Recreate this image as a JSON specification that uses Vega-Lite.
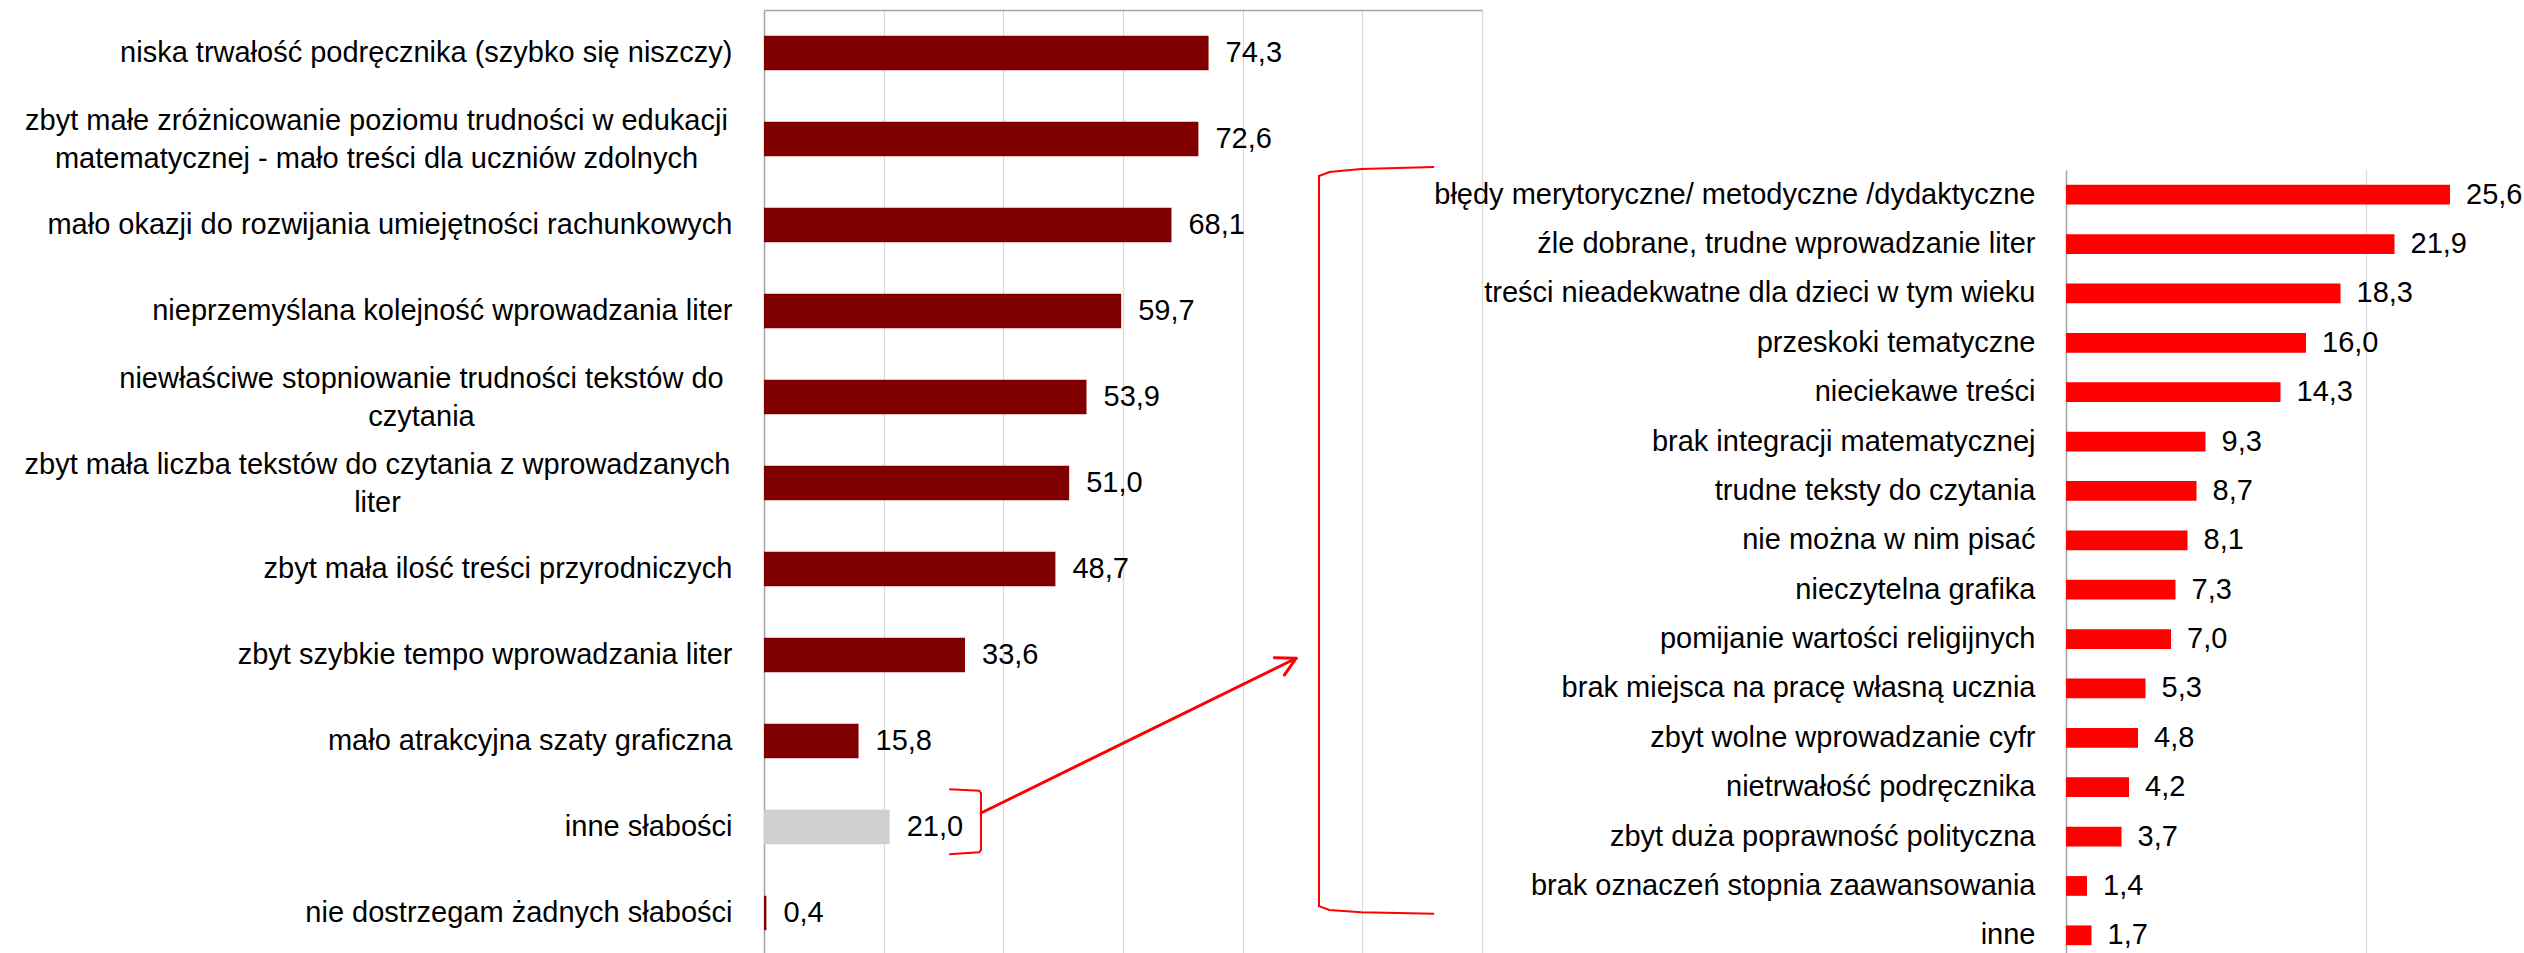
{
  "$schema": "https://vega.github.io/schema/vega-lite/v6.json",
  "padding": {"left": 24, "top": 10, "right": 0, "bottom": 0},
  "background": "#ffffff",
  "config": {
    "locale": {"number": {"decimal": ",", "thousands": " ", "grouping": [3], "currency": ["", " zł"]}},
    "view": {"stroke": null},
    "axis": {
      "labelFont": "Liberation Sans",
      "labelFontSize": 29,
      "labelColor": "#000000",
      "labelLimit": 900,
      "labelLineHeight": 38,
      "domainColor": "#A6A6A6",
      "domainWidth": 1.5,
      "gridColor": "#D9D9D9",
      "gridWidth": 1.2,
      "ticks": false,
      "tickSize": 0
    },
    "text": {"font": "Liberation Sans", "fontSize": 29, "color": "#000000"}
  },
  "bounds": "flush",
  "spacing": 584,
  "hconcat": [
    {
      "width": 718,
      "height": 946,
      "layer": [
        {
          "data": {"values": [
            {"cat": "niska trwałość podręcznika (szybko się niszczy)", "v": 74.3},
            {"cat": "zbyt małe zróżnicowanie poziomu trudności w edukacji|matematycznej - mało treści dla uczniów zdolnych", "v": 72.6},
            {"cat": "mało okazji do rozwijania umiejętności rachunkowych", "v": 68.1},
            {"cat": "nieprzemyślana kolejność wprowadzania liter", "v": 59.7},
            {"cat": "niewłaściwe stopniowanie trudności tekstów do|czytania", "v": 53.9},
            {"cat": "zbyt mała liczba tekstów do czytania z wprowadzanych|liter", "v": 51.0},
            {"cat": "zbyt mała ilość treści przyrodniczych", "v": 48.7},
            {"cat": "zbyt szybkie tempo wprowadzania liter", "v": 33.6},
            {"cat": "mało atrakcyjna szaty graficzna", "v": 15.8},
            {"cat": "inne słabości", "v": 21.0},
            {"cat": "nie dostrzegam żadnych słabości", "v": 0.4}
          ]},
          "encoding": {
            "y": {
              "field": "cat", "type": "nominal", "sort": null,
              "scale": {"paddingInner": 0.6, "paddingOuter": 0.3},
              "axis": {
                "title": null,
                "domain": true,
                "grid": false,
                "labelExpr": "split(datum.label, '|')",
                "labelAlign": {"condition": {"test": "indexof(datum.value, '|') >= 0", "value": "center"}, "value": "right"},
                "labelOffset": {"condition": {"test": "indexof(datum.value, '|') >= 0", "value": -18}, "value": 0},
                "labelPadding": {"condition": [
                  {"test": "indexof(datum.value, 'zbyt małe') == 0", "value": 388},
                  {"test": "indexof(datum.value, 'niewłaściwe') == 0", "value": 343},
                  {"test": "indexof(datum.value, 'zbyt mała liczba') == 0", "value": 387}
                ], "value": 32}
              }
            },
            "x": {
              "field": "v", "type": "quantitative",
              "scale": {"domain": [0, 120]},
              "axis": {"orient": "top", "title": null, "labels": false, "domain": true, "grid": true, "values": [0, 20, 40, 60, 80, 100, 120]}
            }
          },
          "layer": [
            {
              "mark": {"type": "bar"},
              "encoding": {
                "color": {"condition": {"test": "datum.cat === 'inne słabości'", "value": "#D0CECE"}, "value": "#800000"}
              }
            },
            {
              "mark": {"type": "text", "align": "left", "baseline": "middle", "dx": 17},
              "encoding": {"text": {"field": "v", "type": "quantitative", "format": ".1f"}}
            }
          ]
        },
        {
          "data": {"values": [
            {"path": "b1", "i": 0, "v": 30.95, "u": 9.062},
            {"path": "b1", "i": 1, "v": 35.97, "u": 9.078},
            {"path": "b1", "i": 2, "v": 36.27, "u": 9.108},
            {"path": "b1", "i": 3, "v": 36.27, "u": 9.767},
            {"path": "b1", "i": 4, "v": 35.97, "u": 9.795},
            {"path": "b1", "i": 5, "v": 30.95, "u": 9.818},
            {"path": "b2", "i": 0, "v": 112.0, "u": 1.826},
            {"path": "b2", "i": 1, "v": 99.8, "u": 1.849},
            {"path": "b2", "i": 2, "v": 94.5, "u": 1.884},
            {"path": "b2", "i": 3, "v": 92.76, "u": 1.93},
            {"path": "b2", "i": 4, "v": 92.76, "u": 10.42},
            {"path": "b2", "i": 5, "v": 94.5, "u": 10.465},
            {"path": "b2", "i": 6, "v": 99.8, "u": 10.49},
            {"path": "b2", "i": 7, "v": 112.0, "u": 10.51}
          ]},
          "mark": {"type": "line", "color": "#FF0000", "strokeWidth": 2},
          "encoding": {
            "x": {"field": "v", "type": "quantitative", "scale": {"domain": [0, 120]}},
            "y": {"field": "u", "type": "quantitative", "scale": {"domain": [0, 11], "reverse": true, "nice": false, "zero": false}, "axis": null},
            "detail": {"field": "path"},
            "order": {"field": "i"}
          }
        },
        {
          "data": {"values": [
            {"path": "a0", "i": 0, "v": 36.27, "u": 9.337},
            {"path": "a0", "i": 1, "v": 88.92, "u": 7.538},
            {"path": "a1", "i": 0, "v": 85.29, "u": 7.531},
            {"path": "a1", "i": 1, "v": 88.92, "u": 7.538},
            {"path": "a2", "i": 0, "v": 86.96, "u": 7.733},
            {"path": "a2", "i": 1, "v": 88.92, "u": 7.538}
          ]},
          "mark": {"type": "line", "color": "#FF0000", "strokeWidth": 3, "strokeCap": "round"},
          "encoding": {
            "x": {"field": "v", "type": "quantitative", "scale": {"domain": [0, 120]}},
            "y": {"field": "u", "type": "quantitative", "scale": {"domain": [0, 11], "reverse": true, "nice": false, "zero": false}, "axis": null},
            "detail": {"field": "path"},
            "order": {"field": "i"}
          }
        }
      ],
      "resolve": {"scale": {"y": "independent"}}
    },
    {
      "width": 600,
      "height": 950,
      "data": {"values": [
        {"cat": "błędy merytoryczne/ metodyczne /dydaktyczne", "v": 25.6},
        {"cat": "źle dobrane, trudne wprowadzanie liter", "v": 21.9},
        {"cat": "treści nieadekwatne dla dzieci w tym wieku", "v": 18.3},
        {"cat": "przeskoki tematyczne", "v": 16.0},
        {"cat": "nieciekawe treści", "v": 14.3},
        {"cat": "brak integracji matematycznej", "v": 9.3},
        {"cat": "trudne teksty do czytania", "v": 8.7},
        {"cat": "nie można w nim pisać", "v": 8.1},
        {"cat": "nieczytelna grafika", "v": 7.3},
        {"cat": "pomijanie wartości religijnych", "v": 7.0},
        {"cat": "brak miejsca na pracę własną ucznia", "v": 5.3},
        {"cat": "zbyt wolne wprowadzanie cyfr", "v": 4.8},
        {"cat": "nietrwałość podręcznika", "v": 4.2},
        {"cat": "zbyt duża poprawność polityczna", "v": 3.7},
        {"cat": "brak oznaczeń stopnia zaawansowania", "v": 1.4},
        {"cat": "inne", "v": 1.7}
      ]},
      "encoding": {
        "y": {
          "field": "cat", "type": "nominal", "sort": null,
          "scale": {"range": [160, 950], "paddingInner": 0.6, "paddingOuter": 0.3},
          "axis": {"title": null, "domain": true, "grid": false, "labelAlign": "right", "labelPadding": 31}
        },
        "x": {
          "field": "v", "type": "quantitative",
          "scale": {"domain": [0, 40]},
          "axis": {"orient": "top", "title": null, "labels": false, "domain": false, "grid": true, "values": [0, 20, 40]}
        }
      },
      "layer": [
        {"mark": {"type": "bar", "color": "#FF0000"}},
        {
          "mark": {"type": "text", "align": "left", "baseline": "middle", "dx": 16},
          "encoding": {"text": {"field": "v", "type": "quantitative", "format": ".1f"}}
        }
      ]
    }
  ]
}
